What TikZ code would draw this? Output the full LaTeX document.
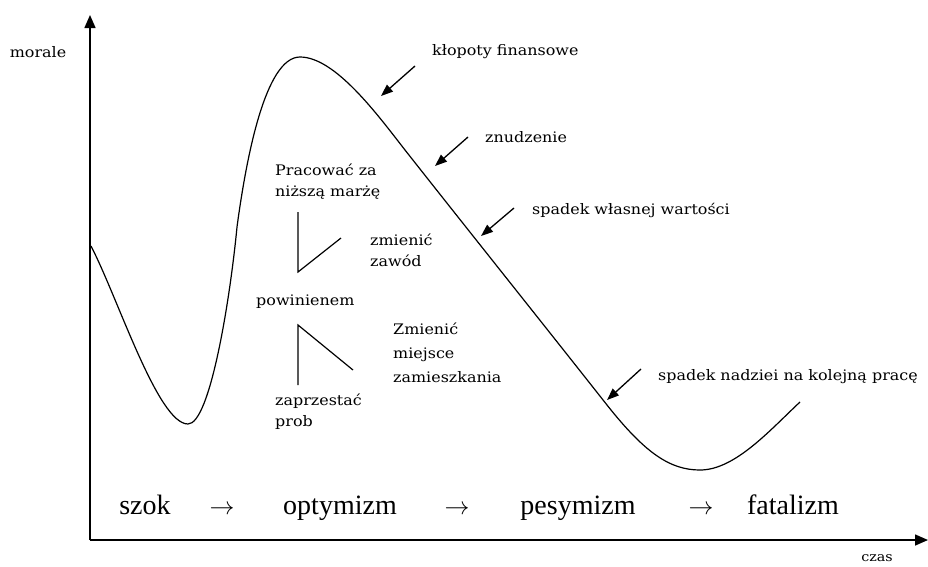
\documentclass[tikz,border=0pt]{standalone}
\usepackage{fontspec}
\setmainfont{Liberation Serif}
\newfontfamily\lblfont[FakeStretch=1.1]{DejaVu Serif}
\usetikzlibrary{arrows.meta}

\begin{document}
\begin{tikzpicture}[x=1pt,y=-1pt]
\tikzstyle{lbl}=[font=\lblfont\fontsize{14.5}{21}\selectfont, inner sep=0pt, align=left]
\tikzstyle{stage}=[font=\fontsize{28}{30}\selectfont, inner sep=0pt, anchor=base]
\tikzstyle{pointer}=[-{Triangle[length=12pt,width=9pt]}, line width=1.3pt]
\tikzstyle{axis}=[-{Triangle[length=13pt,width=11pt]}, line width=1.5pt]
\useasboundingbox (0,0) rectangle (928,566);

% axes
\coordinate (O) at (90,540);
\coordinate (ytop) at (90,15);
\coordinate (xend) at (928,540);
\draw[axis] (O) -- (ytop);
\draw[axis] (O) -- (xend);
\node[lbl] (morale) at (38,52) {morale};
\node[lbl, font=\lblfont\fontsize{13}{15}\selectfont] (czas) at (877,558) {czas};

% morale curve
\draw[line width=1.2pt] (91,246) .. controls (118,298) and (158,424) .. (188,424)
  .. controls (210,424) and (230,300) .. (237,227)
  .. controls (246,160) and (265,57) .. (300,57)
  .. controls (335,57) and (377,114) .. (405,150)
  .. controls (472,235) and (540,320) .. (607,405)
  .. controls (645,453) and (670,470) .. (700,470)
  .. controls (735,470) and (770,430) .. (800,402);

% pointers
\coordinate (fromKlopoty) at (415,66);
\coordinate (toKlopoty) at (381,96);
\coordinate (fromNudy) at (468,137);
\coordinate (toNudy) at (435,166);
\coordinate (fromWartosc) at (514,208);
\coordinate (toWartosc) at (481,236);
\coordinate (fromNadzieja) at (641,369);
\coordinate (toNadzieja) at (607,400);
\draw[pointer] (fromKlopoty) -- (toKlopoty);
\draw[pointer] (fromNudy) -- (toNudy);
\draw[pointer] (fromWartosc) -- (toWartosc);
\draw[pointer] (fromNadzieja) -- (toNadzieja);

\node[lbl, anchor=west] (klopoty) at (432,52) {kłopoty finansowe};
\node[lbl, anchor=west] (nuda) at (485,137) {znudzenie};
\node[lbl, anchor=west] (wartosc) at (532,210) {spadek własnej wartości};
\node[lbl, anchor=west] (nadzieja) at (658,377) {spadek nadziei na kolejną pracę};

% options
\node[lbl, anchor=west] (marza) at (275,182) {Pracować za\\niższą marżę};
\node[lbl, anchor=west] (zawod) at (370,250) {zmienić\\zawód};
\node[lbl, anchor=west] (powinienem) at (256,302) {powinienem};
\node[lbl, anchor=west, font=\lblfont\fontsize{14.5}{24}\selectfont] (miejsce) at (393,353) {Zmienić\\miejsce\\zamieszkania};
\node[lbl, anchor=west] (prob) at (275,412) {zaprzestać\\prob};

\coordinate (up1) at (298,212);
\coordinate (up2) at (298,272);
\coordinate (up3) at (341,238);
\draw[line width=1.2pt] (up1) -- (up2) -- (up3);
\coordinate (dn1) at (298,325);
\coordinate (dn2) at (298,385);
\coordinate (dn3) at (353,370);
\draw[line width=1.2pt] (dn2) -- (dn1) -- (dn3);

% stages
\node[stage] (szok) at (145,514) {szok};
\node[stage] (arr1) at (222,514) {\fontsize{24}{24}\selectfont$\rightarrow$};
\node[stage] (optymizm) at (340,514) {optymizm};
\node[stage] (arr2) at (457,514) {\fontsize{24}{24}\selectfont$\rightarrow$};
\node[stage] (pesymizm) at (578,514) {pesymizm};
\node[stage] (arr3) at (701,514) {\fontsize{24}{24}\selectfont$\rightarrow$};
\node[stage] (fatalizm) at (793,514) {fatalizm};
\end{tikzpicture}
\end{document}
